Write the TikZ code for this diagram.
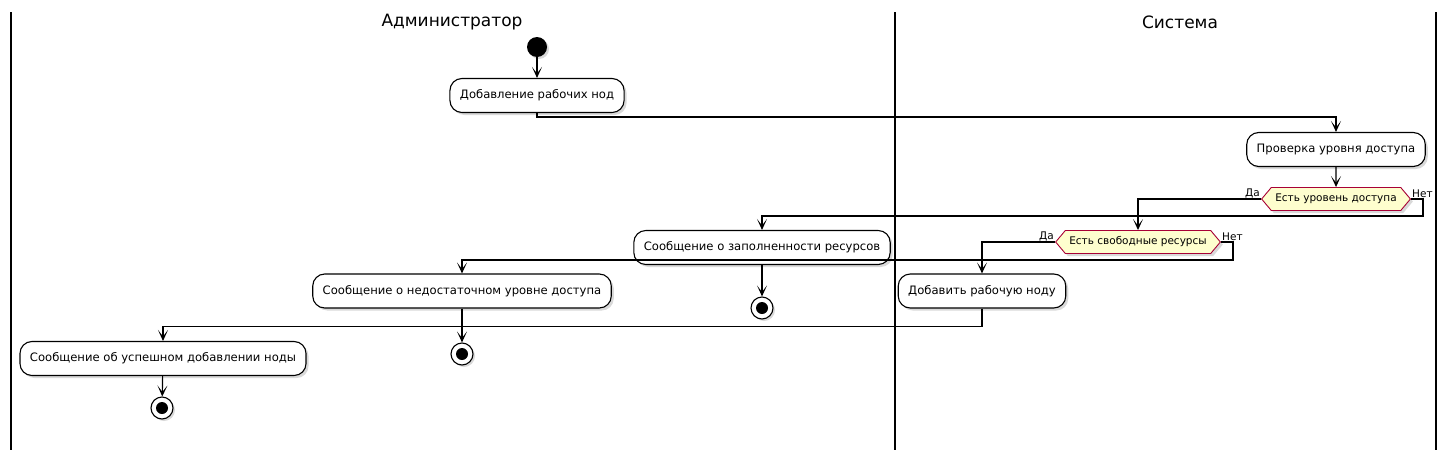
\documentclass[tikz,border=0pt]{standalone}
\usepackage{fontspec}
\setmainfont{DejaVu Sans}
\usetikzlibrary{arrows.meta,shapes.symbols,shadows}
\definecolor{ifred}{HTML}{A80036}
\definecolor{ifyellow}{HTML}{FEFECE}

\begin{document}
\begin{tikzpicture}[x=1pt,y=-1pt, %y runs downwards, one unit is one pixel
  act/.style={draw,line width=1.1pt,rounded corners=12pt,fill=white,minimum height=34pt,inner xsep=10pt,
    font=\fontsize{11.6}{14}\selectfont,drop shadow={shadow xshift=2.5pt,shadow yshift=-2.5pt,opacity=0.3}},
  ifbox/.style={signal,signal to=east and west,signal pointer angle=100,draw=ifred,fill=ifyellow,line width=0.9pt,
    minimum height=23pt,inner xsep=4pt,inner ysep=1pt,font=\fontsize{10.5}{12}\selectfont,
    drop shadow={shadow xshift=2.5pt,shadow yshift=-2.5pt,opacity=0.3}},
  lbl/.style={inner sep=1pt,font=\fontsize{10.5}{12}\selectfont},
  flow/.style={line width=1.2pt,-{Stealth[length=11pt,width=10pt,inset=6.5pt]}},
  lane/.style={line width=1.6pt},
  endpt/.style={circle,draw,line width=1.1pt,fill=white,minimum size=22pt,inner sep=0pt,
    drop shadow={shadow xshift=2pt,shadow yshift=-2pt,opacity=0.3}},
  dot/.style={circle,fill=black,minimum size=12pt,inner sep=0pt}]
\useasboundingbox (0,0) rectangle (1448,461);

% swimlanes
\draw[lane] (11,12)--(11,450) (895,12)--(895,450) (1436,12)--(1436,450);
\node[font=\fontsize{17}{20}\selectfont] (admin) at (452,22) {Администратор};
\node[font=\fontsize{17}{20}\selectfont] (sys) at (1180,22) {Система};

% activities
\node[circle,fill=black,minimum size=20pt,inner sep=0pt,drop shadow={shadow xshift=2pt,shadow yshift=-2pt,opacity=0.3}] (start) at (537,47) {};
\node[act] (add) at (537,95.5) {Добавление рабочих нод};
\node[act] (check) at (1336,149.5) {Проверка уровня доступа};
\node[ifbox] (lvl) at (1336,199) {Есть уровень доступа};
\node[ifbox] (free) at (1138,242) {Есть свободные ресурсы};
\node[act] (full) at (762,247.5) {Сообщение о заполненности ресурсов};
\node[act] (addnode) at (982,291) {Добавить рабочую ноду};
\node[act] (noaccess) at (462,291) {Сообщение о недостаточном уровне доступа};
\node[act] (ok) at (163,358.5) {Сообщение об успешном добавлении ноды};
\node[endpt] (end1) at (762,308) {};
\node[endpt] (end2) at (462,354) {};
\node[endpt] (end3) at (162,408) {};
\foreach \e in {end1,end2,end3} \node[dot] (\e dot) at (\e) {};

\node[lbl,anchor=south east] (lvlyes) at (lvl.west) {Да};
\node[lbl,anchor=south west] (lvlno) at (lvl.east) {Нет};
\node[lbl,anchor=south east] (freeyes) at (free.west) {Да};
\node[lbl,anchor=south west] (freeno) at (free.east) {Нет};

% connectors
\draw[flow] (start) -- (add);
\draw[flow] (add.south) -- ++(0,4) -| (check.north);
\draw[flow] (check) -- (lvl);
\draw[flow] (lvl.west) -| (free.north);
\draw[flow] (lvl.east) -- ++(12,0) -- ++(0,17) -| (full.north);
\draw[flow] (free.west) -| (addnode.north);
\draw[flow] (free.east) -- ++(12,0) -- ++(0,18) -| (noaccess.north);
\draw[flow] (full) -- (end1);
\draw[flow] (addnode.south) -- ++(0,18) -| (ok.north);
\draw[flow] (noaccess) -- (end2);
\draw[flow] (ok) -- (end3);
\end{tikzpicture}
\end{document}
